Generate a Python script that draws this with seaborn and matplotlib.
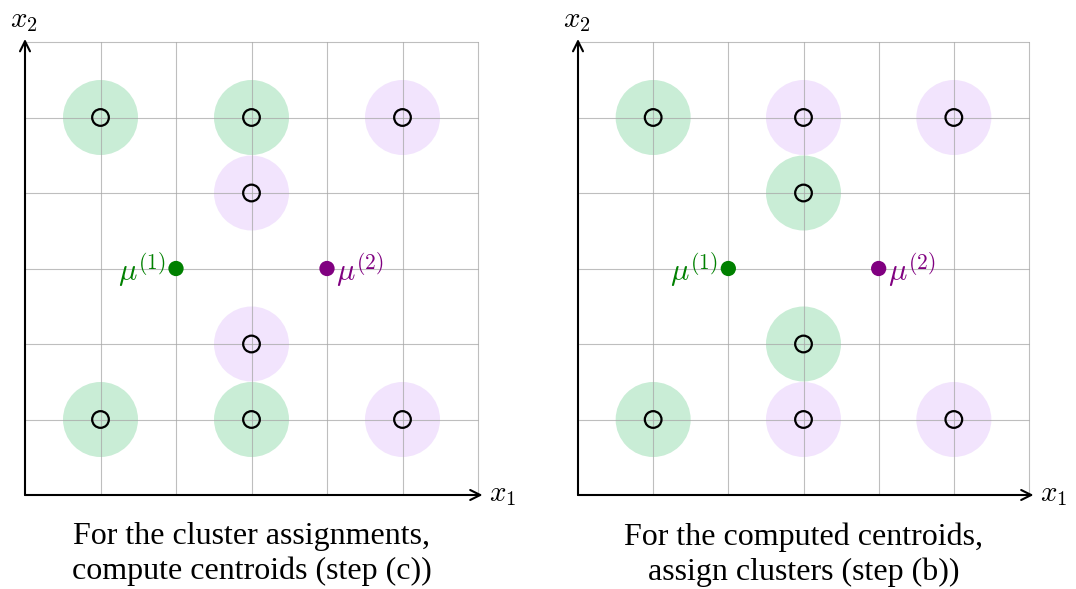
import numpy as np
import pandas as pd
import matplotlib
matplotlib.use("Agg")
import matplotlib.pyplot as plt
import seaborn as sns

# data points on the grid
point_x = [1, 3, 5, 3, 3, 1, 3, 5]
point_y = [5, 5, 5, 4, 2, 1, 1, 1]

# cluster per point in each panel
clusters_left = ["c1", "c1", "c2", "c2", "c2", "c1", "c1", "c2"]
clusters_right = ["c1", "c2", "c2", "c1", "c1", "c1", "c2", "c2"]

centroid_x = [2, 4]
centroid_y = [3, 3]
centroid_labels = [r"$\mu^{(1)}$", r"$\mu^{(2)}$"]

captions = [
    "For the cluster assignments,\ncompute centroids (step (c))",
    "For the computed centroids,\nassign clusters (step (b))",
]

halo_colors = {"c1": "#c9edd6", "c2": "#f2e4fd"}
centroid_colors = ["#008000", "#800080"]

sns.set_style("white")
plt.rcParams["mathtext.fontset"] = "cm"
plt.rcParams["font.family"] = ["Liberation Serif", "DejaVu Serif"]
plt.rcParams["text.color"] = "black"

W, H = 1076, 589
fig = plt.figure(figsize=(W / 100, H / 100), dpi=100)

# pixel boxes of the 0..6 data region for each panel
boxes = [(25, 478), (578, 1029)]
top_px, bottom_px = 42, 495

for (x0, x1), clusters, caption in zip(boxes, [clusters_left, clusters_right], captions):
    ax = fig.add_axes([x0 / W, 1 - bottom_px / H, (x1 - x0) / W, (bottom_px - top_px) / H])
    ax.set_xlim(0, 6)
    ax.set_ylim(0, 6)

    df = pd.DataFrame({"x": point_x, "y": point_y, "cluster": clusters})
    sns.scatterplot(data=df, x="x", y="y", hue="cluster", palette=halo_colors,
                    s=54 ** 2, linewidth=0, legend=False, ax=ax, zorder=1, clip_on=False)

    # grid drawn over the halos, like the reference
    for v in range(1, 7):
        ax.axvline(v, color="#a8a8a8", lw=0.8, alpha=0.75, zorder=2, clip_on=False)
        ax.axhline(v, color="#a8a8a8", lw=0.8, alpha=0.75, zorder=2, clip_on=False)

    sns.scatterplot(data=df, x="x", y="y", s=12 ** 2, facecolor="none",
                    edgecolor="black", linewidth=1.6, legend=False, ax=ax, zorder=3)

    cdf = pd.DataFrame({"x": centroid_x, "y": centroid_y, "k": ["m1", "m2"]})
    sns.scatterplot(data=cdf, x="x", y="y", hue="k", palette=centroid_colors,
                    s=11 ** 2, linewidth=0, legend=False, ax=ax, zorder=4)
    ax.text(centroid_x[0] - 0.14, centroid_y[0] - 0.02, centroid_labels[0],
            color=centroid_colors[0], fontsize=22, ha="right", va="center")
    ax.text(centroid_x[1] + 0.12, centroid_y[1] - 0.02, centroid_labels[1],
            color=centroid_colors[1], fontsize=22, ha="left", va="center")

    # axes with arrows
    ax.annotate("", xy=(6.06, 0), xytext=(0, 0), annotation_clip=False,
                arrowprops=dict(arrowstyle="->", lw=1.5, color="black",
                                mutation_scale=18, shrinkA=0, shrinkB=0))
    ax.annotate("", xy=(0, 6.04), xytext=(0, 0), annotation_clip=False,
                arrowprops=dict(arrowstyle="->", lw=1.5, color="black",
                                mutation_scale=18, shrinkA=0, shrinkB=0))
    ax.text(6.14, 0, r"$x_1$", fontsize=21, color="black", ha="left", va="center")
    ax.text(-0.2, 6.11, r"$x_2$", fontsize=21, color="black", ha="left", va="bottom")

    ax.text(3, -0.36, caption, fontsize=23, color="black", ha="center", va="top",
            linespacing=1.25)

    for s in ax.spines.values():
        s.set_visible(False)
    ax.set_xticks([])
    ax.set_yticks([])
    ax.set_xlabel("")
    ax.set_ylabel("")

fig.savefig("out.png", dpi=100)
